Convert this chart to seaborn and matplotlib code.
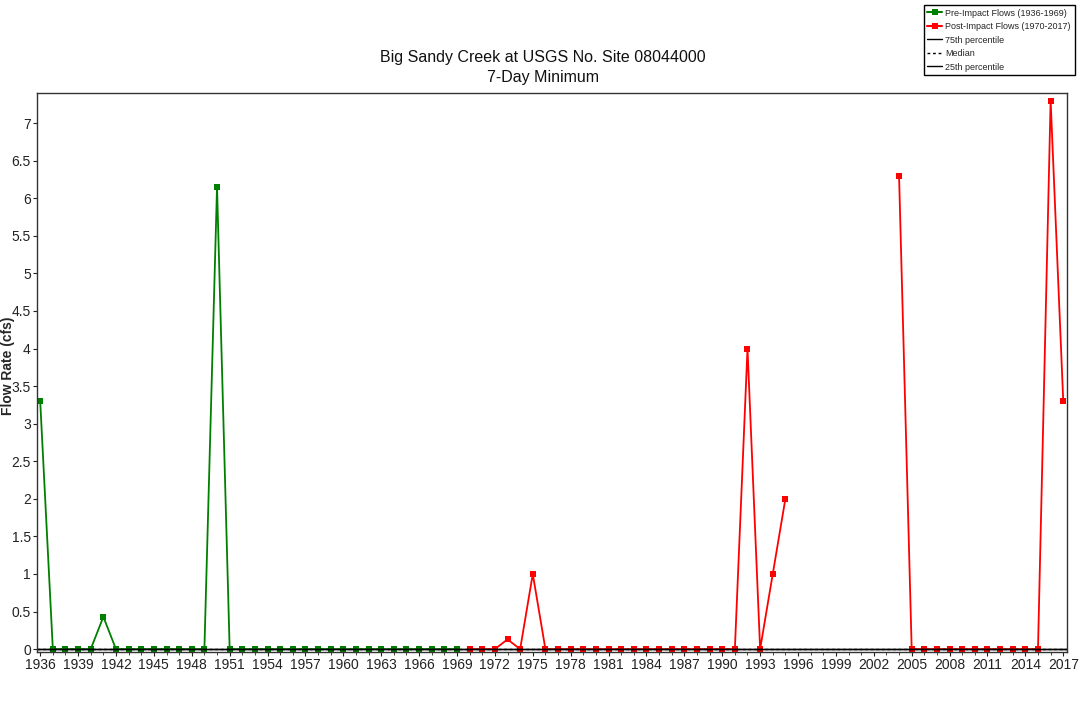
import numpy as np
import pandas as pd
import matplotlib
matplotlib.use("Agg")
import matplotlib.pyplot as plt
from matplotlib.lines import Line2D
import seaborn as sns

# 7-day minimum flow (cfs) by year
pre_years = list(range(1936, 1970))
pre_flow = [3.3, 0, 0, 0, 0, 0.43, 0, 0, 0, 0, 0, 0, 0, 0, 6.15, 0, 0, 0, 0, 0,
            0, 0, 0, 0, 0, 0, 0, 0, 0, 0, 0, 0, 0, 0]

post_years = list(range(1970, 2018))
post_flow = [0, 0, 0, 0.13, 0, 1.0, 0, 0, 0, 0, 0, 0, 0, 0, 0, 0, 0, 0, 0, 0,
             0, 0, 4.0, 0, 1.0, 2.0,
             np.nan, np.nan, np.nan, np.nan, np.nan, np.nan, np.nan, np.nan,
             6.3, 0, 0, 0, 0, 0, 0, 0, 0, 0, 0, 0, 7.3, 3.3]

pct75 = 0.0
median = 0.0
pct25 = 0.0

pre_label = "Pre-Impact Flows (1936-1969)"
post_label = "Post-Impact Flows (1970-2017)"
green = "#008000"
red = "#ff0000"

# Long table; a segment id keeps missing years as a break in the line
rows = []
for y, v in zip(pre_years, pre_flow):
    rows.append((y, v, pre_label, 0))
seg = 1
for y, v in zip(post_years, post_flow):
    if np.isnan(v):
        seg = 2
        continue
    rows.append((y, v, post_label, seg))
df = pd.DataFrame(rows, columns=["year", "flow", "period", "segment"])

sns.set_theme(style="white")
plt.rcParams["font.family"] = ["Liberation Sans", "DejaVu Sans"]

fig = plt.figure(figsize=(10.8, 7.05), dpi=100)
ax = fig.add_axes([0.0343, 0.075, 0.9537, 0.793])

sns.lineplot(data=df, x="year", y="flow", hue="period", units="segment",
             estimator=None, palette={pre_label: green, post_label: red},
             marker="s", markersize=4.5, markeredgewidth=0, linewidth=1.3,
             legend=False, ax=ax)

# Percentile reference lines
ax.axhline(pct75, color="black", linewidth=1.0)
ax.axhline(median, color="black", linewidth=1.0, linestyle=(0, (2, 2)))
ax.axhline(pct25, color="black", linewidth=1.0)

ax.set_xlim(1935.75, 2017.3)
ax.set_ylim(-0.04, 7.4)
ax.set_xticks(range(1936, 2018, 3))
ax.set_xticks(range(1936, 2018), minor=True)
ax.set_yticks(np.arange(0, 7.01, 0.5))
ax.set_yticklabels([f"{t:g}" for t in np.arange(0, 7.01, 0.5)])
ax.tick_params(axis="both", which="major", labelsize=10, length=3, width=0.8,
               direction="out", bottom=True, left=True, pad=1.5, colors="#222222")
ax.tick_params(axis="x", which="minor", length=2, width=0.6, bottom=True,
               direction="out")
for lab in ax.get_xticklabels() + ax.get_yticklabels():
    lab.set_color("#222222")

for s in ax.spines.values():
    s.set_color("#333333")
    s.set_linewidth(1.0)

ax.set_xlabel("")
ax.set_ylabel("Flow Rate (cfs)", fontsize=10, fontweight="bold", labelpad=0)
ax.yaxis.set_label_coords(-0.021, 0.513)

fig.text(0.503, 0.879, "Big Sandy Creek at USGS No. Site 08044000\n7-Day Minimum",
         ha="center", va="bottom", fontsize=11.5, linespacing=1.45, color="#111111")

handles = [
    Line2D([], [], color=green, marker="s", markersize=4, markeredgewidth=0, linewidth=1.5),
    Line2D([], [], color=red, marker="s", markersize=4, markeredgewidth=0, linewidth=1.5),
    Line2D([], [], color="black", linewidth=1.0),
    Line2D([], [], color="black", linewidth=1.0, linestyle=(0, (2, 2))),
    Line2D([], [], color="black", linewidth=1.0),
]
labels = [pre_label, post_label, "75th percentile", "Median", "25th percentile"]
fig.legend(handles, labels, loc="upper right", bbox_to_anchor=(0.995, 0.993),
           fontsize=6.5, frameon=True, fancybox=False, edgecolor="black",
           framealpha=1, handlelength=1.6, handletextpad=0.4, labelspacing=0.5,
           borderpad=0.4, borderaxespad=0)

fig.savefig("out.png", dpi=100, facecolor="white")
